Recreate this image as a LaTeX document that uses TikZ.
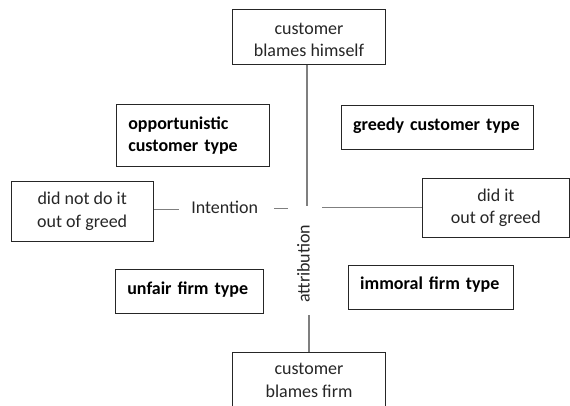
\documentclass[tikz,border=0pt]{standalone}
\usepackage{fontspec}
\setmainfont{Carlito}
\definecolor{txtcol}{HTML}{262626}
\definecolor{boxcol}{HTML}{262626}
\definecolor{linecol}{HTML}{7F7F7F}
\begin{document}
\begin{tikzpicture}[x=0.75pt,y=-0.75pt,
  box/.style={draw=boxcol, line width=0.75pt, inner sep=0pt, font=\fontsize{13.5}{17.2}\selectfont, text=txtcol, align=center},
  tbox/.style={draw=boxcol, line width=0.75pt, inner xsep=8.7pt, inner ysep=0pt, font=\fontsize{13.5}{17}\selectfont\bfseries, text=black, align=left},
  conn/.style={draw=linecol, line width=1pt},
  lab/.style={font=\fontsize{13.5}{17}\selectfont, text=txtcol, inner sep=1pt}]
\clip (0,0) rectangle (570,405);
\fill[white] (0,0) rectangle (570,405);

% boxes
\node[box, minimum width=114.75pt, minimum height=41pt, text height=30.5pt] (top) at (309,36.7) {customer\\blames himself};
\node[tbox, text width=97.1pt, minimum height=46.1pt] (opp) at (193,135.7) {opportunistic\\customer type};
\node[tbox, text width=127pt, minimum height=32.9pt] (greedy) at (437.7,127.4) {\raisebox{5.5pt}{greedy customer type}};
\node[box, minimum width=106.7pt, minimum height=45pt] (didnot) at (82.2,211.7) {did not do it\\out of greed};
\node[box, minimum width=110.4pt, minimum height=44.25pt] (didit) at (495.9,207.8) {did it\\out of greed};
\node[tbox, text width=93.5pt, minimum height=33pt] (unfair) at (189.6,291.3) {\raisebox{5pt}{unfair firm type}};
\node[tbox, text width=106.6pt, minimum height=32.7pt] (immoral) at (431.3,287.5) {\raisebox{6pt}{immoral firm type}};
\node[box, minimum width=114.75pt, minimum height=41.25pt] (bot) at (309,380.2) {customer\\blames firm};

% axis labels
\node[lab] (intent) at (224.7,207.5) {Intention};
\node[lab, rotate=90] (attr) at (303.5,263.7) {attribution};

% connector ends
\coordinate (vtop) at (307,205.7);
\coordinate (hleft) at (179,209.3);
\coordinate (dashA) at (274.3,208.3);
\coordinate (dashB) at (287.7,208.3);
\coordinate (hright) at (322.3,207.7);
\coordinate (vbot) at (309,315);

% connectors
\draw[conn] (top.south -| vtop) -- (vtop);
\draw[conn] (didnot.east |- hleft) -- (hleft);
\draw[conn] (dashA) -- (dashB);
\draw[conn] (hright) -- (didit.west |- hright);
\draw[conn] (bot.north) -- (vbot);
\end{tikzpicture}
\end{document}
